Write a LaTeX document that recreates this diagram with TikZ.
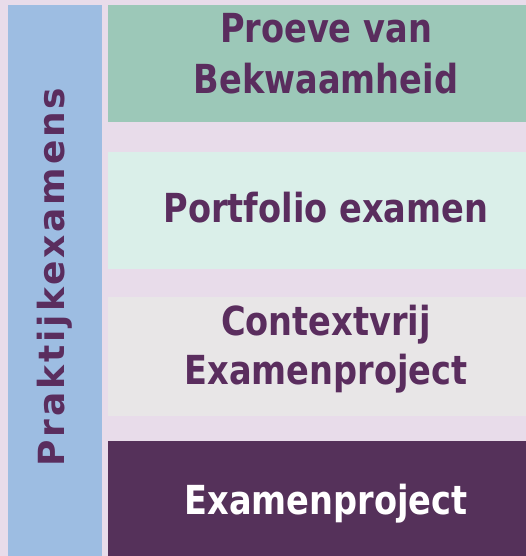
\documentclass[tikz,border=0pt]{standalone}
\usepackage{fontspec}
\newfontfamily\boxfont[FakeStretch=0.84]{DejaVu Sans}
\newfontfamily\sidefont[LetterSpace=8]{DejaVu Sans}
\definecolor{bglav}{HTML}{E8DCEA}
\definecolor{sideblue}{HTML}{9DBDE2}
\definecolor{tealbox}{HTML}{9CC8B8}
\definecolor{mintbox}{HTML}{DAEFE9}
\definecolor{greybox}{HTML}{E8E6E7}
\definecolor{plumbox}{HTML}{55315A}
\definecolor{plumtext}{HTML}{5A2D5E}
\tikzset{
  lbl/.style={anchor=base, inner sep=0pt, text=plumtext, font=\boxfont\bfseries\fontsize{40}{48}\selectfont},
  sidelbl/.style={anchor=base, inner sep=0pt, rotate=90, text=plumtext, font=\sidefont\bfseries\fontsize{36}{42}\selectfont},
}
\begin{document}
\begin{tikzpicture}[x=1pt,y=-1pt]
\useasboundingbox (0,0) rectangle (526,556);
\fill[bglav] (0,0) rectangle (526,556);
\fill[sideblue] (8,5) rectangle (102,556);
\fill[tealbox] (108,5) rectangle (526,122);
\fill[mintbox] (108,152) rectangle (526,269);
\fill[greybox] (108,297) rectangle (526,416);
\fill[plumbox] (108,441) rectangle (526,556);
\node[lbl] (t1) at (326,43) {Proeve van};
\node[lbl] (t2) at (326,94) {Bekwaamheid};
\node[lbl] (t3) at (326,222) {Portfolio examen};
\node[lbl] (t4) at (326,335) {Contextvrij};
\node[lbl] (t5) at (326,384) {Examenproject};
\node[lbl, text=white] (t6) at (326,514) {Examenproject};
\node[sidelbl] (side) at (64,277) {Praktijkexamens};
\end{tikzpicture}
\end{document}
